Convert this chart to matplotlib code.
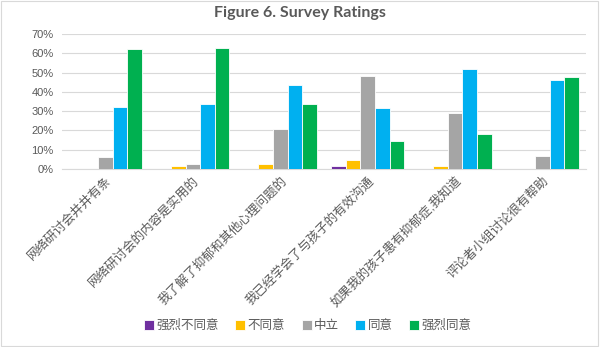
import numpy as np
import matplotlib.pyplot as plt
from matplotlib.patches import Rectangle
from matplotlib.ticker import PercentFormatter

plt.rcParams['font.family'] = ['Liberation Sans', 'Noto Sans CJK SC', 'DejaVu Sans']

# survey statements (x categories)
questions = [
    '网络研讨会井井有条',
    '网络研讨会的内容是实用的',
    '我了解了抑郁和其他心理问题的',
    '我已经学会了与孩子的有效沟通',
    '如果我的孩子患有抑郁症,我知道',
    '评论者小组讨论很有帮助',
]

# response shares per rating level
strongly_disagree = [0.0, 0.0, 0.0, 0.016, 0.0, 0.0]
disagree = [0.0, 0.016, 0.026, 0.049, 0.016, 0.0]
neutral = [0.064, 0.026, 0.207, 0.483, 0.292, 0.068]
agree = [0.320, 0.339, 0.437, 0.317, 0.520, 0.464]
strongly_agree = [0.624, 0.630, 0.339, 0.146, 0.183, 0.478]

levels = ['强烈不同意', '不同意', '中立', '同意', '强烈同意']
colors = ['#7030A0', '#FFC000', '#A5A5A5', '#00B0F0', '#00B050']
series = [strongly_disagree, disagree, neutral, agree, strongly_agree]

text_col = '#595959'

fig = plt.figure(figsize=(6.0, 3.47), dpi=100)
ax = fig.add_axes([0.103, 0.513, 0.874, 0.389])

x = np.arange(len(questions))
width = 0.167
for i, (vals, col, name) in enumerate(zip(series, colors, levels)):
    ax.bar(x + (i - 2) * width, vals, width, color=col, edgecolor='white',
           linewidth=0.6, label=name, zorder=3)

ax.set_xlim(-0.5, len(questions) - 0.5)
ax.set_ylim(0, 0.7)
ax.set_yticks(np.arange(0, 0.71, 0.1))
ax.yaxis.set_major_formatter(PercentFormatter(1.0, decimals=0))
ax.grid(axis='y', color='#D9D9D9', linewidth=0.8, zorder=0)
for s in ['top', 'right', 'left']:
    ax.spines[s].set_visible(False)
ax.spines['bottom'].set_color('#D9D9D9')
ax.tick_params(axis='y', length=0, labelsize=8, colors=text_col, pad=6)
ax.tick_params(axis='x', length=0, colors=text_col, pad=4)
ax.set_xticks(x)
ax.set_xticklabels(questions, rotation=45, ha='right', rotation_mode='anchor',
                   fontsize=9, color=text_col)

fig.text(0.5, 0.963, 'Figure 6. Survey Ratings', ha='center', va='center',
         fontsize=11.5, fontweight='bold', color=text_col, family='Lato')

fig.legend(loc='center', bbox_to_anchor=(0.513, 0.06), ncol=5, frameon=False,
           fontsize=9, handlelength=0.8, handleheight=0.8, handletextpad=0.2,
           columnspacing=1.3, labelcolor=text_col)

# light chart border
fig.patches.append(Rectangle((0.002, 0.003), 0.995, 0.993, transform=fig.transFigure,
                             fill=False, edgecolor='#D9D9D9', linewidth=0.8))

fig.savefig('out.png', dpi=100)
